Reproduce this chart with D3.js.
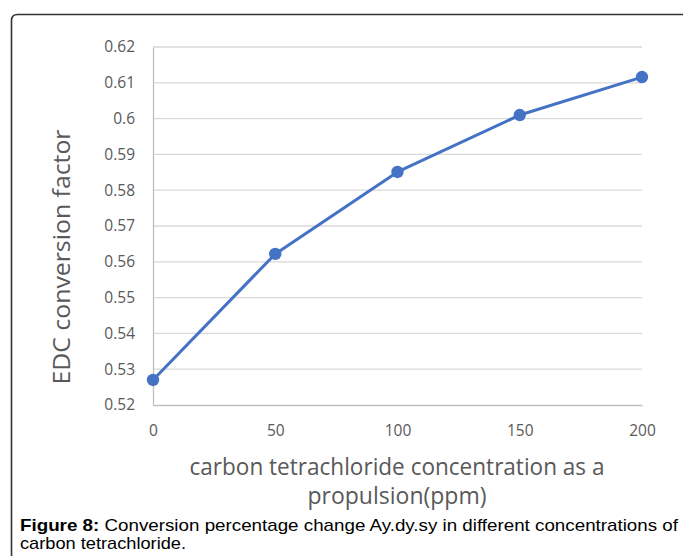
<!DOCTYPE html>
<html><head><meta charset="utf-8">
<script src="https://cdn.jsdelivr.net/npm/d3@7"></script>
<style>html,body{margin:0;padding:0;background:#fff;}svg{display:block;}</style>
</head><body>
<script>
const xValues = [0, 50, 100, 150, 200];
const yValues = [0.527, 0.5622, 0.5851, 0.601, 0.6116];
const yTicks = [0.52, 0.53, 0.54, 0.55, 0.56, 0.57, 0.58, 0.59, 0.6, 0.61, 0.62];
const xTicks = [0, 50, 100, 150, 200];
const yTitle = "EDC conversion factor";
const xTitleLines = ["carbon tetrachloride concentration as a", "propulsion(ppm)"];
const captionBold = "Figure 8:";
const captionLines = [" Conversion percentage change Ay.dy.sy in different concentrations of", "carbon tetrachloride."];

(function () {
const W = 683, H = 556;
const svg = d3.select("body").append("svg").attr("width", W).attr("height", H);

// frame
svg.append("path")
  .attr("d", `M11.5,${H+2} L11.5,20.5 Q11.5,14.5 17.5,14.5 L${W+2},14.5`)
  .attr("fill", "none").attr("stroke", "#333").attr("stroke-width", 1.6);

const pl = 153, pr = 642, pt = 47, pb = 405;
const x = d3.scaleLinear().domain([0, 200]).range([pl, pr]);
const y = d3.scaleLinear().domain([0.52, 0.62]).range([pb, pt]);

const font = "'Open Sans', 'Noto Sans', sans-serif";
const grey = "#595959";

// gridlines
svg.append("g").selectAll("line").data(yTicks.filter(d => d > 0.52)).join("line")
  .attr("x1", pl).attr("x2", pr)
  .attr("y1", d => y(d)).attr("y2", d => y(d))
  .attr("stroke", "#d9d9d9").attr("stroke-width", 1.3);

// y axis
const yAxis = svg.append("g").attr("transform", `translate(${pl},0)`)
  .call(d3.axisLeft(y).tickValues(yTicks).tickSize(0).tickPadding(18).tickFormat(d => String(+d.toFixed(2))));
yAxis.select(".domain").attr("stroke", "#bfbfbf").attr("stroke-width", 1.3);
yAxis.selectAll("text").attr("fill", grey).style("font-family", font).style("font-size", "15.5px");

// x axis
const xAxis = svg.append("g").attr("transform", `translate(0,${pb})`)
  .call(d3.axisBottom(x).tickValues(xTicks).tickSize(0).tickPadding(20));
xAxis.select(".domain").attr("stroke", "#bfbfbf").attr("stroke-width", 1.3);
xAxis.selectAll("text").attr("fill", grey).style("font-family", font).style("font-size", "15.5px");

// line
const data = xValues.map((v, i) => [v, yValues[i]]);
svg.append("path").datum(data)
  .attr("d", d3.line().x(d => x(d[0])).y(d => y(d[1])))
  .attr("fill", "none").attr("stroke", "#4472C4").attr("stroke-width", 3)
  .attr("stroke-linejoin", "round");
svg.append("g").selectAll("circle").data(data).join("circle")
  .attr("cx", d => x(d[0])).attr("cy", d => y(d[1])).attr("r", 6.2)
  .attr("fill", "#4472C4");

// y title
svg.append("text")
  .attr("transform", `translate(70,257) rotate(-90)`)
  .attr("text-anchor", "middle").attr("fill", grey)
  .style("font-family", font).style("font-size", "23px")
  .attr("textLength", 255).attr("lengthAdjust", "spacingAndGlyphs")
  .text(yTitle);

// x title
const xtLen = [415, 179];
svg.append("g").selectAll("text").data(xTitleLines).join("text")
  .attr("x", 397).attr("y", (d, i) => 475 + i * 29)
  .attr("text-anchor", "middle").attr("fill", grey)
  .style("font-family", font).style("font-size", "23px")
  .attr("textLength", (d, i) => xtLen[i]).attr("lengthAdjust", "spacingAndGlyphs")
  .text(d => d);

// caption
const cf = "'Liberation Sans', Arial, sans-serif";
const cap = svg.append("text").attr("x", 20).attr("y", 531)
  .attr("fill", "#000").style("font-family", cf).style("font-size", "17px")
  .attr("textLength", 658).attr("lengthAdjust", "spacingAndGlyphs");
cap.append("tspan").style("font-weight", "bold").text(captionBold);
cap.append("tspan").text(captionLines[0]);
svg.append("text").attr("x", 20).attr("y", 549)
  .attr("fill", "#000").style("font-family", cf).style("font-size", "17px")
  .attr("textLength", 166).attr("lengthAdjust", "spacingAndGlyphs")
  .text(captionLines[1]);
})();
</script>
</body></html>
